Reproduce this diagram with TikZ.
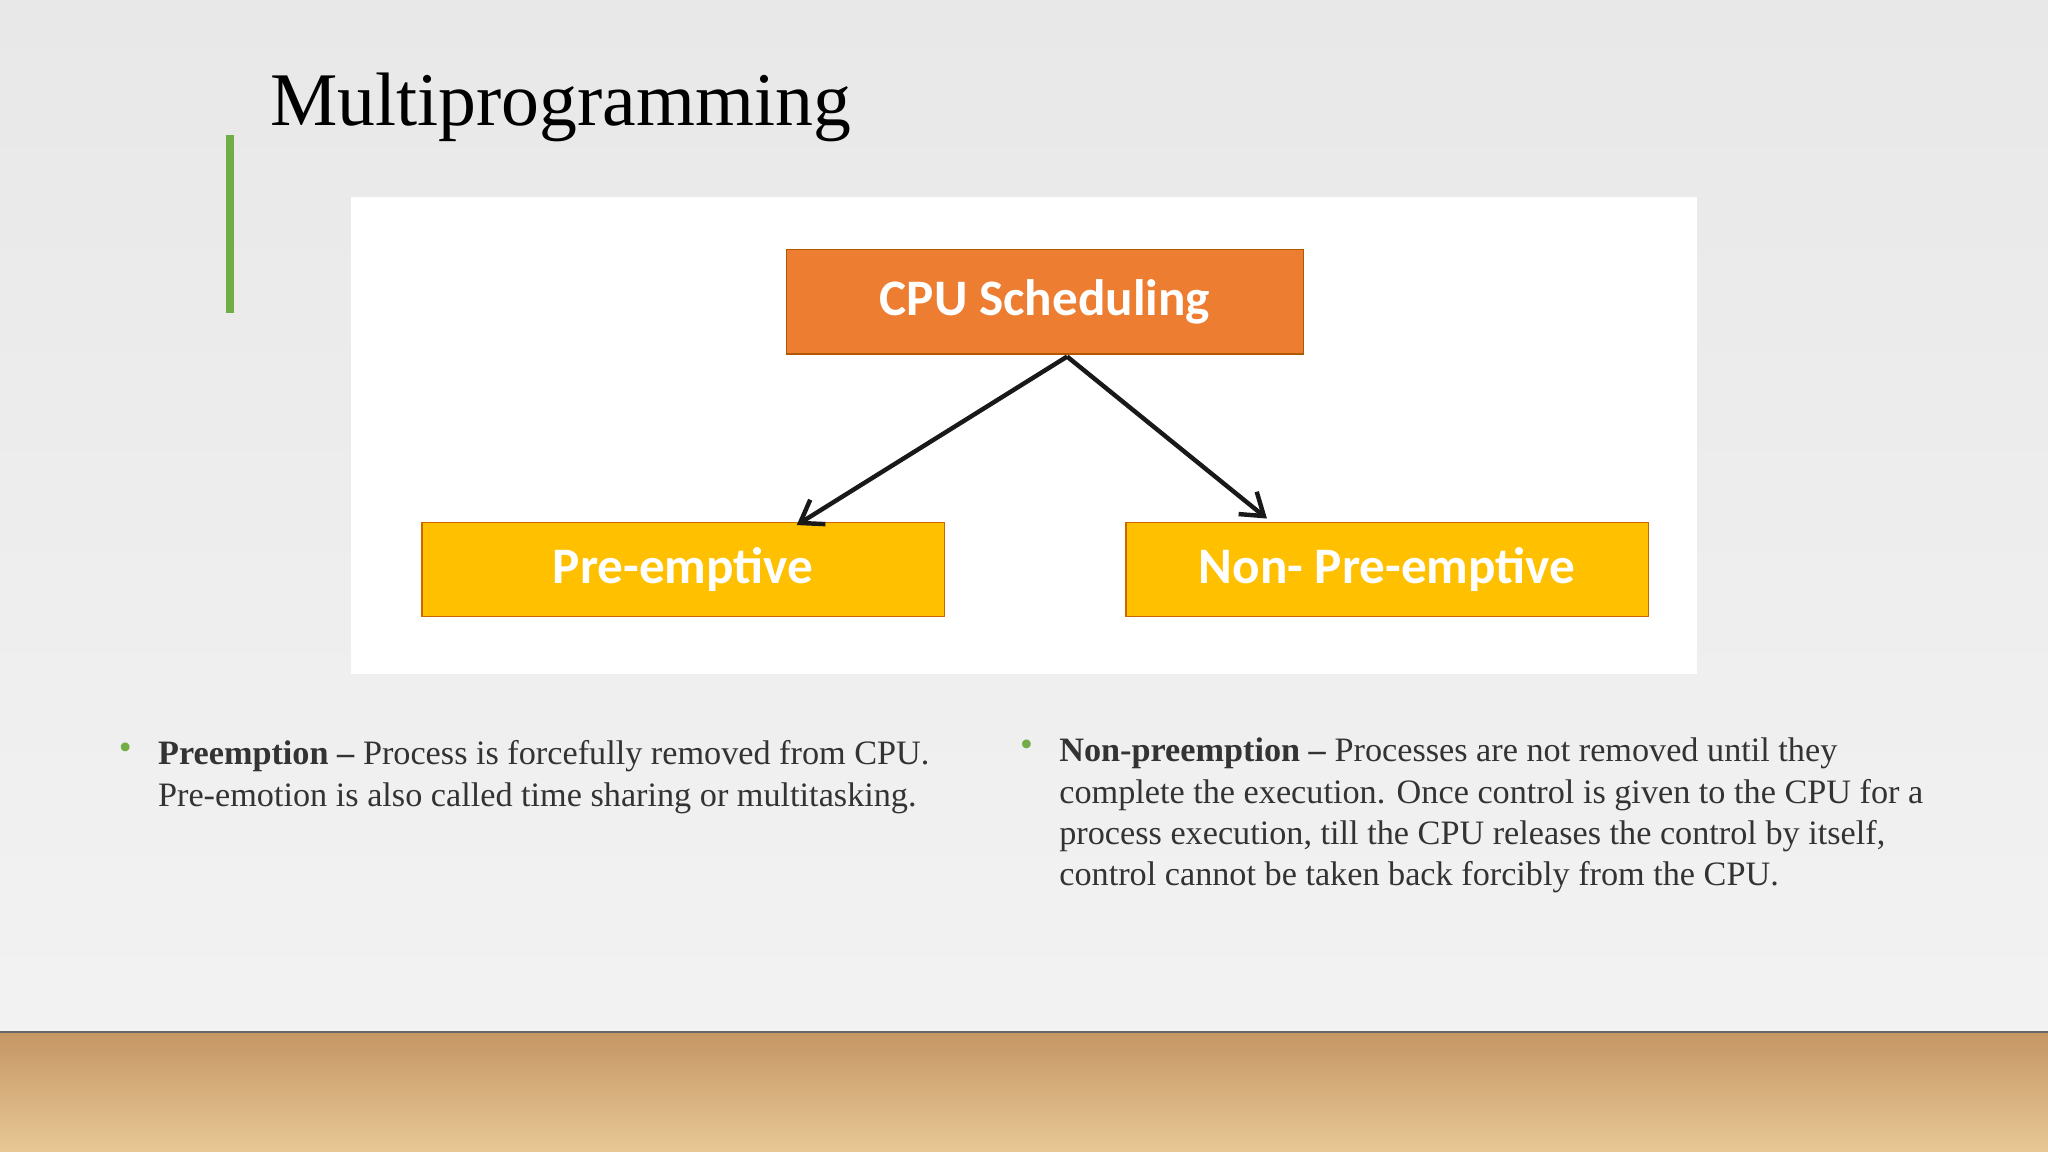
\documentclass[tikz,border=0pt]{standalone}
\usepackage{fontspec}
\setmainfont{Liberation Serif}
\newfontfamily\boxfont{Carlito}
\usetikzlibrary{arrows.meta}
\begin{document}
\begin{tikzpicture}[x=0.5pt,y=-0.5pt,
  top/.style={draw=orange!70!black,line width=0.6pt,minimum width=198pt,minimum height=40pt,text=white,font=\boxfont\bfseries\fontsize{19.6}{21}\selectfont},
  leaf/.style={draw=orange!80!black,line width=0.6pt,minimum width=200pt,minimum height=36pt,text=white,font=\boxfont\bfseries\fontsize{19.6}{21}\selectfont},
  arr/.style={-{Straight Barb[length=8pt,width=11pt]},line width=1.7pt,black!90},
  body/.style={anchor=north west,align=left,font=\fontsize{13.1}{15.8}\selectfont,text=black!80}]
\definecolor{cpu}{RGB}{237,125,49}
\definecolor{yel}{RGB}{255,192,0}
\definecolor{gbar}{RGB}{112,173,71}
\definecolor{woodA}{RGB}{196,150,100}
\definecolor{woodB}{RGB}{232,200,150}
\useasboundingbox (0,0) rectangle (1568,882);
\shade[top color=black!9,bottom color=black!5] (0,0) rectangle (1568,790);
\shade[top color=woodA,bottom color=woodB] (0,790) rectangle (1568,882);
\draw[black!60,line width=1pt] (0,790) -- (1568,790);
\node[anchor=base west,font=\fontsize{29}{30}\selectfont] (title) at (200,96) {Multiprogramming};
\fill[gbar] (173,103) rectangle (179,240);
\fill[white] (269,151) rectangle (1299,516);
\node[top,fill=cpu] (cpu) at (800,231) {CPU Scheduling};
\node[leaf,fill=yel] (pre) at (523,436) {Pre-emptive};
\node[leaf,fill=yel] (non) at (1062,436) {Non- Pre-emptive};
\coordinate (apex) at (817,273);
\draw[arr] (apex) -- (610,402);
\draw[arr] (apex) -- (970,397);
\node[text=gbar,font=\fontsize{14}{14}\selectfont] (b1) at (96,575) {•};
\node[body] (t1) at (114,560) {\textbf{Preemption –} Process is forcefully removed from CPU.\\Pre-emotion is also called time sharing or multitasking.};
\node[text=gbar,font=\fontsize{14}{14}\selectfont] (b2) at (786,573) {•};
\node[body] (t2) at (804,558) {\textbf{Non-preemption –} Processes are not removed until they\\complete the execution. Once control is given to the CPU for a\\process execution, till the CPU releases the control by itself,\\control cannot be taken back forcibly from the CPU.};
\end{tikzpicture}
\end{document}
